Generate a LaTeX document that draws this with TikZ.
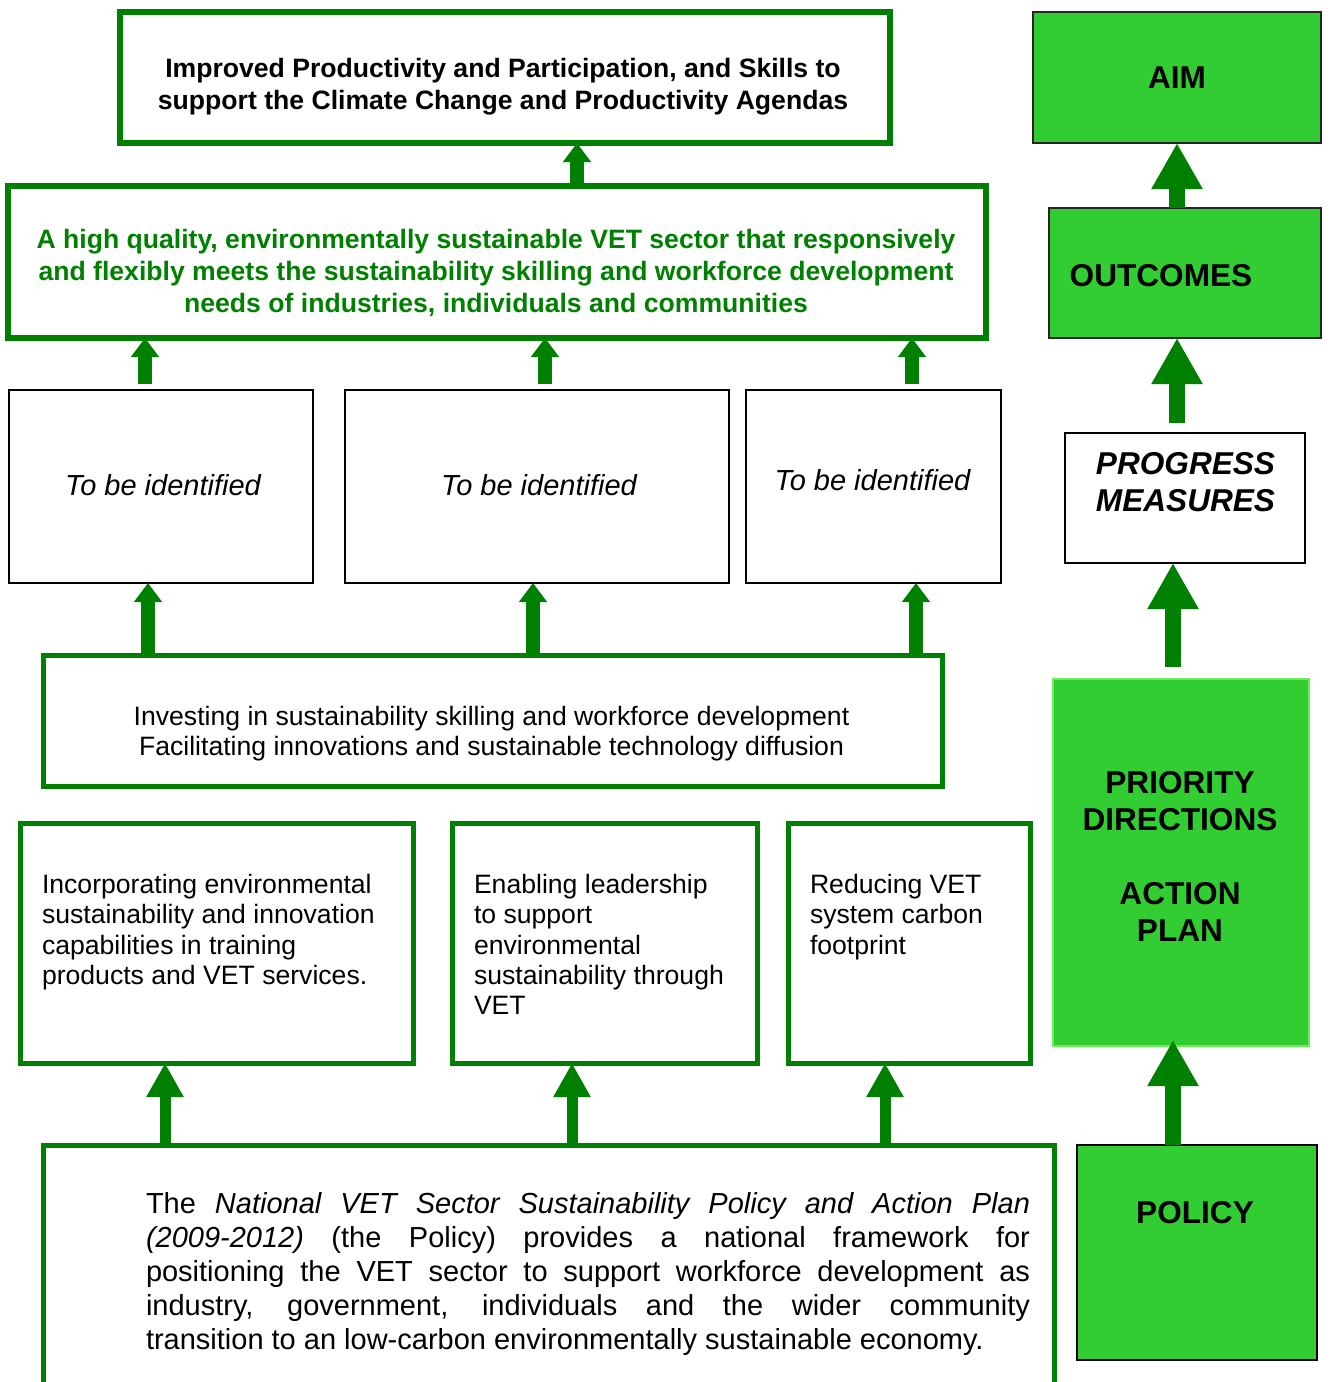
\documentclass[tikz,border=0pt]{standalone}
\usepackage{fontspec}
\setmainfont{Liberation Sans}
\usepackage{xcolor}
\usepackage{tikz}
\usetikzlibrary{positioning,arrows.meta}

\definecolor{vetgreen}{RGB}{0,128,0}
\definecolor{limegreen}{RGB}{50,205,50}
\definecolor{paleedge}{RGB}{110,235,90}

\newcommand{\fsGoal}{\fontsize{13.3pt}{16pt}\selectfont\bfseries}
\newcommand{\fsBody}{\fontsize{13.3pt}{15.2pt}\selectfont}
\newcommand{\fsIdent}{\fontsize{14.5pt}{17pt}\selectfont\itshape}
\newcommand{\fsPolicy}{\fontsize{14.5pt}{17pt}\selectfont}
\newcommand{\fsSide}{\fontsize{15.8pt}{18.5pt}\selectfont\bfseries}

\begin{document}
\begin{tikzpicture}[
						x=0.5pt, y=-0.5pt,
						every node/.style={inner sep=0pt, outer sep=0pt},
						green_box/.style={
							draw=vetgreen, line width=2.5pt, fill=white
						},
						goal_box/.style={green_box, line width=3pt},
						id_box/.style={draw=black, line width=1pt, fill=white},
						side_box/.style={draw=black!85, line width=0.75pt, fill=limegreen},
						small_arrow/.style={
							-{Triangle[width=13.5pt, length=9.5pt]},
							vetgreen, line width=7pt
						},
						low_arrow/.style={
							-{Triangle[width=17.5pt, length=17pt]},
							vetgreen, line width=5.5pt
						},
						big_arrow/.style={
							-{Triangle[width=24pt, length=23pt]},
							vetgreen, line width=8pt
						}
						]
						\path[use as bounding box, clip] (0,0) rectangle (1329,1382);
						
						% --- 1. KHUNG BEN TRAI ---
						\node[goal_box, minimum width=385pt, minimum height=65.5pt] (goal) at (505,77.5) {};
						\node[green_box, line width=3pt, minimum width=489pt, minimum height=76pt] (outcome) at (497,262) {};
						
						\node[id_box, minimum width=152pt, minimum height=96.5pt] (id_a) at (161,486.5) {};
						\node[id_box, minimum width=192pt, minimum height=96.5pt] (id_b) at (537,486.5) {};
						\node[id_box, minimum width=127.5pt, minimum height=96.5pt] (id_c) at (873.5,486.5) {};
						
						\node[green_box, minimum width=449.5pt, minimum height=65.5pt] (invest) at (492.5,720.5) {};
						
						\node[green_box, minimum width=196.5pt, minimum height=120pt] (pr_a) at (216.5,943) {};
						\node[green_box, minimum width=152.5pt, minimum height=120pt] (pr_b) at (604.5,943) {};
						\node[green_box, minimum width=121pt, minimum height=120pt] (pr_c) at (909,943) {};
						
						\node[green_box, minimum width=505.5pt, minimum height=127.5pt] (policy) at (548.5,1272.5) {};
						
						% --- 2. CHU TRONG KHUNG ---
						\node[align=center, font=\fsGoal] (goal_txt) at (503,87)
						{Improved Productivity and Participation, and Skills to\\
							support the Climate Change and Productivity Agendas};
						\node[align=center, font=\fsGoal, text=vetgreen] (outcome_txt) at (496,272.5)
						{A high quality, environmentally sustainable VET sector that responsively\\
							and flexibly meets the sustainability skilling and workforce development\\
							needs of industries, individuals and communities};
						
						\node[font=\fsIdent] (id_a_txt) at (163,485) {To be identified};
						\node[font=\fsIdent] (id_b_txt) at (539,485) {To be identified};
						\node[font=\fsIdent] (id_c_txt) at (872.5,480) {To be identified};
						
						\node[align=center, font=\fsBody] (invest_txt) at (491.5,733.5)
						{Investing in sustainability skilling and workforce development\\
							Facilitating innovations and sustainable technology diffusion};
						
						\node[anchor=north west, align=left, font=\fsBody] (pr_a_txt) at (42,874)
						{Incorporating environmental\\sustainability and innovation\\capabilities in training\\products and VET services.};
						\node[anchor=north west, align=left, font=\fsBody] (pr_b_txt) at (474,874)
						{Enabling leadership\\to support\\environmental\\sustainability through\\VET};
						\node[anchor=north west, align=left, font=\fsBody] (pr_c_txt) at (810,874)
						{Reducing VET\\system carbon\\footprint};
						
						\node[anchor=north west, align=left, font=\fsPolicy] (policy_txt) at (146,1192)
						{\makebox[442pt][s]{The \textit{National VET Sector Sustainability Policy and Action Plan}}\\
							\makebox[442pt][s]{\textit{(2009-2012)} (the Policy) provides a national framework for}\\
							\makebox[442pt][s]{positioning the VET sector to support workforce development as}\\
							\makebox[442pt][s]{industry, government, individuals and the wider community}\\
							transition to an low-carbon environmentally sustainable economy.};
						
						% --- 3. COT BEN PHAI ---
						\node[side_box, minimum width=144pt, minimum height=65.5pt, font=\fsSide] (aim) at (1177,77.5) {AIM};
						\node[side_box, minimum width=136pt, minimum height=65pt] (outc) at (1185,273) {};
						\node[font=\fsSide] (outc_txt) at (1161,276) {OUTCOMES};
						\node[draw=black, line width=1pt, fill=white, minimum width=120pt, minimum height=65pt] (prog) at (1185,498) {};
						\node[align=center, font=\fsSide\itshape] (prog_txt) at (1185.5,482) {PROGRESS\\MEASURES};
						\node[fill=limegreen, draw=paleedge, line width=0.75pt, minimum width=128pt, minimum height=183.5pt] (prio) at (1181,862.5) {};
						\node[align=center, font=\fsSide] (prio_txt) at (1180,856) {PRIORITY\\DIRECTIONS\\[18.5pt]ACTION\\PLAN};
						\node[side_box, draw=black, line width=1pt, minimum width=120pt, minimum height=107.5pt] (pol) at (1197,1252.5) {};
						\node[font=\fsSide] (pol_txt) at (1195,1213) {POLICY};
						
						% --- 4. MUI TEN ---
						\coordinate (up_goal) at ([xshift=36pt]goal.south);
						\draw[small_arrow] (up_goal |- outcome.north) -- (up_goal);
						
						\coordinate (up_a) at ([xshift=-8pt]id_a.north);
						\coordinate (up_b) at ([xshift=4pt]id_b.north);
						\coordinate (up_c) at ([xshift=19.25pt]id_c.north);
						\draw[small_arrow, shorten <=3pt] (up_a) -- (up_a |- outcome.south);
						\draw[small_arrow, shorten <=3pt] (up_b) -- (up_b |- outcome.south);
						\draw[small_arrow, shorten <=3pt] (up_c) -- (up_c |- outcome.south);
						
						\coordinate (in_a) at ([xshift=-6.5pt]id_a.south);
						\coordinate (in_b) at ([xshift=-2pt]id_b.south);
						\coordinate (in_c) at ([xshift=21.25pt]id_c.south);
						\draw[small_arrow] (in_a |- invest.north) -- (in_a);
						\draw[small_arrow] (in_b |- invest.north) -- (in_b);
						\draw[small_arrow] (in_c |- invest.north) -- (in_c);
						
						\coordinate (pr_a_in) at ([xshift=-25.75pt]pr_a.south);
						\coordinate (pr_b_in) at ([xshift=-16.25pt]pr_b.south);
						\coordinate (pr_c_in) at ([xshift=-12pt]pr_c.south);
						\draw[low_arrow] (pr_a_in |- policy.north) -- (pr_a_in);
						\draw[low_arrow] (pr_b_in |- policy.north) -- (pr_b_in);
						\draw[low_arrow] (pr_c_in |- policy.north) -- (pr_c_in);
						
						\draw[big_arrow] (aim.south |- outc.north) -- (aim.south);
						\draw[big_arrow, shorten <=5pt] (aim.south |- prog.north) -- (aim.south |- outc.south);
						\coordinate (up_r) at ([xshift=-4pt]prio.north);
						\draw[big_arrow, shorten <=6pt] (up_r) -- (up_r |- prog.south);
						\draw[big_arrow, shorten >=-3pt] (up_r |- pol.north) -- (up_r |- prio.south);
						
					\end{tikzpicture}
\end{document}
